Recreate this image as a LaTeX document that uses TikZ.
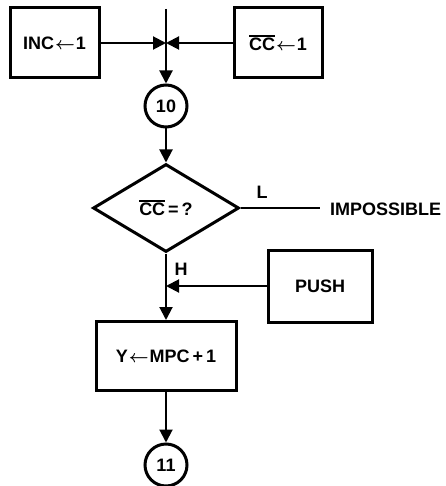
\documentclass[tikz,border=0pt]{standalone}
\usepackage{fontspec}
\setmainfont{Liberation Sans}
\usetikzlibrary{arrows.meta,shapes.geometric}
\newcommand\ovbar[1]{\leavevmode\vbox{\hrule height 1.6pt\kern 1.6pt\hbox{#1}}}
\newcommand\larr{\kern1pt{\boldmath$\leftarrow$}\kern1pt}
\tikzset{
  box/.style={draw, line width=3pt, rectangle, inner sep=0pt, font=\fontsize{18}{20}\selectfont\bfseries},
  circ/.style={draw, line width=3pt, circle, minimum size=42pt, inner sep=0pt, font=\fontsize{18}{20}\selectfont\bfseries},
  lbl/.style={font=\fontsize{18}{20}\selectfont\bfseries, inner sep=0pt},
  conn/.style={line width=2pt},
  arr/.style={conn, -{Triangle[length=13pt,width=13pt]}},
}
\begin{document}
\begin{tikzpicture}[x=1pt,y=-1pt]
\useasboundingbox (0,0) rectangle (445,486);
\node[box, minimum width=89pt, minimum height=70pt] (inc) at (54.5,43) {INC\larr1};
\node[box, minimum width=88pt, minimum height=70pt] (ccb) at (278,43) {\ovbar{CC}\larr1};
\node[circ] (c10) at (166,106) {10};
\node[draw, line width=3pt, diamond, minimum width=146pt, minimum height=88pt, inner sep=0pt, aspect=1.66, font=\fontsize{18}{20}\selectfont\bfseries] (dec) at (166,208) {\ovbar{CC}\kern3pt=\kern3pt?};
\node[box, minimum width=104pt, minimum height=72pt] (push) at (320,286) {PUSH};
\node[box, minimum width=140pt, minimum height=69pt] (ybox) at (166,356) {Y\larr MPC\kern3pt+\kern3pt1};
\node[circ] (c11) at (166,465) {11};
\node[lbl, anchor=west] (imp) at (330,209) {IMPOSSIBLE};
\node[lbl] (lL) at (262,192) {L};
\node[lbl] (lH) at (181,269) {H};
\coordinate (top) at (166,9);
\coordinate (j1) at (166,43);
\coordinate (j2) at (166,286);
\coordinate (impl) at (320,208);
% connectors
\draw[arr] (top) -- (c10.north);
\draw[arr] (inc.east) -- (j1);
\draw[arr] (ccb.west) -- (j1);
\draw[arr] (c10.south) -- (dec.north);
\draw[conn] (dec.east) -- (impl);
\draw[arr] (dec.south) -- (ybox.north);
\draw[arr] (push.west) -- (j2);
\draw[arr] (ybox.south) -- (c11.north);
\end{tikzpicture}
\end{document}
